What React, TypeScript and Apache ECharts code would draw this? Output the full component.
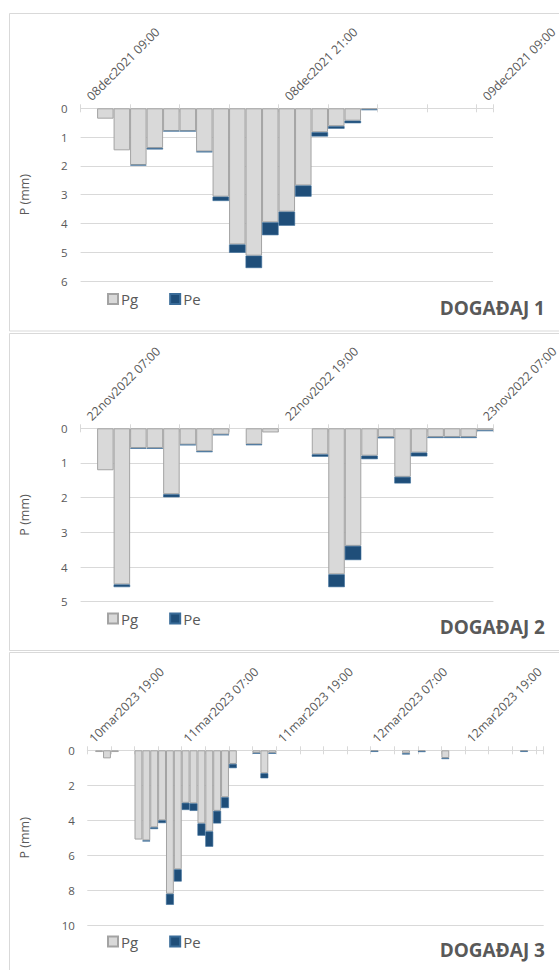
import React, { useEffect, useRef } from 'react';
import * as echarts from 'echarts';

const FONT = "'Open Sans', 'DejaVu Sans', sans-serif";
const TEXT = '#595959';
const LINE = '#d9d9d9';

const MONTHS = ['jan', 'feb', 'mar', 'apr', 'may', 'jun', 'jul', 'aug', 'sep', 'oct', 'nov', 'dec'];
const pad = (n: number) => String(n).padStart(2, '0');

// Hourly category labels such as "08dec2021 09:00"
function hourlyCategories(y: number, m: number, d: number, h: number, count: number): string[] {
  const out: string[] = [];
  for (let i = 0; i < count; i++) {
    const t = new Date(Date.UTC(y, m, d, h + i));
    out.push(`${pad(t.getUTCDate())}${MONTHS[t.getUTCMonth()]}${t.getUTCFullYear()} ${pad(t.getUTCHours())}:00`);
  }
  return out;
}

// Event 1 — 08 Dec 2021, hourly rainfall (mm)
const event1Hours = hourlyCategories(2021, 11, 8, 9, 25);
const event1Pg = [0, 0.36, 1.46, 1.97, 1.38, 0.79, 0.79, 1.5, 3.07, 4.73, 5.12, 3.96, 3.59, 2.68, 0.83, 0.62, 0.43, 0.04, 0, 0, 0, 0, 0, 0, 0];
const event1Pe = [0, 0, 0, 0.02, 0.05, 0.01, 0.01, 0.03, 0.15, 0.29, 0.43, 0.45, 0.49, 0.39, 0.15, 0.09, 0.09, 0.02, 0, 0, 0, 0, 0, 0, 0];

// Event 2 — 22 Nov 2022
const event2Hours = hourlyCategories(2022, 10, 22, 7, 25);
const event2Pg = [0, 1.21, 4.5, 0.57, 0.57, 1.9, 0.47, 0.66, 0.18, 0, 0.46, 0.12, 0, 0, 0.75, 4.21, 3.39, 0.79, 0.25, 1.4, 0.7, 0.25, 0.25, 0.25, 0.06];
const event2Pe = [0, 0, 0.08, 0.02, 0.02, 0.09, 0.02, 0.03, 0.02, 0, 0.03, 0, 0, 0, 0.07, 0.37, 0.41, 0.1, 0.04, 0.19, 0.11, 0.03, 0.03, 0.03, 0.02];

// Event 3 — 10 to 13 Mar 2023
const event3Hours = hourlyCategories(2023, 2, 10, 19, 58);
const event3Pg = [
  0, 0.1, 0.46, 0.1, 0, 0, 5.1, 5.15, 4.4, 4.0,
  8.2, 6.8, 3.0, 3.03, 4.18, 4.63, 3.46, 2.68, 0.78, 0,
  0, 0.15, 1.31, 0.15, 0, 0, 0, 0, 0, 0,
  0, 0, 0, 0, 0, 0, 0.04, 0, 0, 0,
  0.17, 0, 0.05, 0, 0, 0.44, 0, 0, 0, 0,
  0, 0, 0, 0, 0, 0.04, 0, 0,
];
const event3Pe = [
  0, 0, 0, 0, 0, 0, 0, 0.06, 0.1, 0.16,
  0.63, 0.7, 0.41, 0.43, 0.7, 0.88, 0.72, 0.62, 0.24, 0,
  0, 0.05, 0.29, 0.05, 0, 0, 0, 0, 0, 0,
  0, 0, 0, 0, 0, 0, 0.05, 0, 0, 0,
  0.07, 0, 0.05, 0, 0, 0.06, 0, 0, 0, 0,
  0, 0, 0, 0, 0, 0.05, 0, 0,
];

const SERIES_NAMES = ['Pg', 'Pe'];
const EVENT_TITLES = ['DOGAĐAJ 1', 'DOGAĐAJ 2', 'DOGAĐAJ 3'];
const Y_TITLE = 'P (mm)';

const panels = [
  {
    hours: event1Hours, pg: event1Pg, pe: event1Pe, max: 6, step: 1,
    grid: { left: 80.6, top: 108.3, width: 412.4, height: 172.7 },
    frame: { y: 13.5, h: 317.5 }, legendMid: 300.5, titleMid: 308, labelMargin: 13,
  },
  {
    hours: event2Hours, pg: event2Pg, pe: event2Pe, max: 5, step: 1,
    grid: { left: 80.6, top: 428.3, width: 412.8, height: 173.4 },
    frame: { y: 333.5, h: 317 }, legendMid: 620, titleMid: 627, labelMargin: 13,
  },
  {
    hours: event3Hours, pg: event3Pg, pe: event3Pe, max: 10, step: 2,
    grid: { left: 87.3, top: 750.3, width: 456.4, height: 175 },
    frame: { y: 652.5, h: 330 }, legendMid: 943, titleMid: 950, labelMargin: 12.5,
  },
];

const nz = (v: number) => (v > 0 ? v : '-');

function buildOption() {
  const grid: any[] = [];
  const xAxis: any[] = [];
  const yAxis: any[] = [];
  const series: any[] = [];
  const legend: any[] = [];
  const graphic: any[] = [];
  const n = panels.length;

  panels.forEach((p, i) => {
    grid.push({ ...p.grid, containLabel: false, outerBoundsMode: 'none' });

    // a top axis negates its label rotation, so -45 gives text rising to the right
    xAxis.push({
      type: 'category', gridIndex: i, position: 'top', data: p.hours,
      axisLine: { show: true, onZero: false, lineStyle: { color: LINE, width: 1 } },
      axisTick: { show: true, interval: 2, length: 4, lineStyle: { color: LINE, width: 1 } },
      axisLabel: {
        interval: 11, rotate: -45, margin: 10, fontSize: 12.3, color: TEXT, fontFamily: FONT,
      },
      splitLine: { show: false },
    });
    yAxis.push({
      type: 'value', gridIndex: i, inverse: true, min: 0, max: p.max, interval: p.step,
      axisLine: { show: false }, axisTick: { show: false },
      axisLabel: { fontSize: 11.5, color: TEXT, fontFamily: FONT, margin: p.labelMargin },
      splitLine: { show: true, lineStyle: { color: LINE, width: 1 } },
    });

    series.push({
      name: SERIES_NAMES[0], type: 'bar', stack: 'p' + i, xAxisIndex: i, yAxisIndex: i,
      barWidth: '100%', data: p.pg.map(nz),
      itemStyle: { color: '#d9d9d9', borderColor: '#a3a3a3', borderWidth: 1 },
    });
    series.push({
      name: SERIES_NAMES[1], type: 'bar', stack: 'p' + i, xAxisIndex: i, yAxisIndex: i,
      barWidth: '100%', data: p.pe.map(nz),
      itemStyle: { color: '#1f4e79', borderColor: '#3a6c99', borderWidth: 0.6 },
    });

    legend.push({
      data: SERIES_NAMES, left: 107, top: p.legendMid - 9, padding: 0,
      icon: 'rect', itemWidth: 10, itemHeight: 10, itemGap: 31, selectedMode: false,
      textStyle: { fontSize: 15, color: TEXT, fontFamily: FONT, padding: [0, 0, 0, -2] },
    });

    graphic.push({
      type: 'rect', silent: true, z: -1,
      shape: { x: 9.5, y: p.frame.y, width: 600, height: p.frame.h },
      style: { fill: '#ffffff', stroke: '#d9d9d9', lineWidth: 1 },
    });
    graphic.push({
      type: 'text', silent: true,
      x: 24, y: p.grid.top + p.grid.height / 2, rotation: Math.PI / 2,
      style: { text: Y_TITLE, fontSize: 12.5, fill: TEXT, fontFamily: FONT, align: 'center', verticalAlign: 'middle' },
    });
    graphic.push({
      type: 'text', silent: true, x: 545, y: p.titleMid,
      style: {
        text: EVENT_TITLES[i], fontSize: 19, fontWeight: 'bold', fill: TEXT, fontFamily: FONT,
        align: 'right', verticalAlign: 'middle',
      },
    });
  });

  // overlay grids on the same rectangles: their top axes draw the downward half of each tick
  panels.forEach((p, i) => {
    grid.push({ ...p.grid, containLabel: false, outerBoundsMode: 'none' });
    xAxis.push({
      type: 'category', gridIndex: n + i, position: 'top', data: p.hours,
      axisLine: { show: false, onZero: false },
      axisTick: { show: true, inside: true, interval: 2, length: 4, lineStyle: { color: LINE, width: 1 } },
      axisLabel: { show: false },
      splitLine: { show: false },
    });
    yAxis.push({
      type: 'value', gridIndex: n + i, inverse: true, min: 0, max: p.max, interval: p.step,
      show: false,
    });
  });

  return { animation: false, backgroundColor: '#ffffff', grid, xAxis, yAxis, series, legend, graphic };
}

export default function App() {
  const ref = useRef<HTMLDivElement>(null);
  useEffect(() => {
    if (!ref.current) return;
    const chart = echarts.init(ref.current, undefined, { renderer: 'svg' });
    chart.setOption(buildOption() as any);
    return () => chart.dispose();
  }, []);
  return (
    <div style={{ position: 'absolute', left: 0, top: 0, width: 559, height: 970, background: '#fff' }}>
      <div ref={ref} style={{ width: 559, height: 970 }} />
    </div>
  );
}
